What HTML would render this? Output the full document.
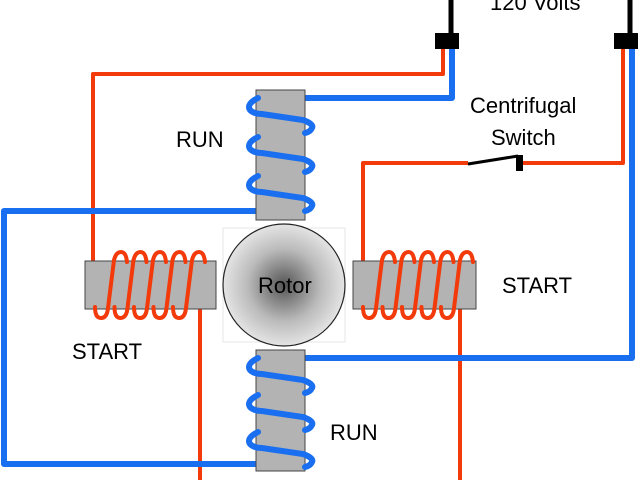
<!DOCTYPE html>
<html><head><meta charset="utf-8"><style>
html,body{margin:0;padding:0;background:#fff;width:640px;height:480px;overflow:hidden}
text{font-family:"Liberation Sans",sans-serif;font-size:22px;fill:#000}
</style></head><body>
<svg width="640" height="480" viewBox="0 0 640 480" xmlns="http://www.w3.org/2000/svg">
<defs>
<radialGradient id="rg" cx="0.5" cy="0.5" r="0.5">
<stop offset="0" stop-color="#555"/><stop offset="0.6" stop-color="#bbb"/><stop offset="1" stop-color="#e4e4e4"/>
</radialGradient>
</defs>
<g fill="none" stroke-linejoin="round">
<!-- black supply wires -->
<line x1="451" y1="0" x2="451" y2="36" stroke="#000" stroke-width="5"/>
<line x1="630" y1="0" x2="630" y2="36" stroke="#000" stroke-width="5"/>
<!-- red wires -->
<polyline points="443,48 443,74 93,74 93,262" stroke="#f33a0a" stroke-width="4"/>
<polyline points="623,48 623,163 522,163" stroke="#f33a0a" stroke-width="4"/>
<polyline points="468,163 363,163 363,262" stroke="#f33a0a" stroke-width="4"/>
<line x1="200" y1="309" x2="200" y2="480" stroke="#f33a0a" stroke-width="4"/>
<line x1="460" y1="309" x2="460" y2="480" stroke="#f33a0a" stroke-width="4"/>
<!-- blue wires -->
<polyline points="452,48 452,98 305,98" stroke="#1a6ff0" stroke-width="6"/>
<polyline points="256,211 4,211 4,464 256,464" stroke="#1a6ff0" stroke-width="6"/>
<polyline points="305,358 632,358 632,48" stroke="#1a6ff0" stroke-width="6"/>
</g>
<!-- terminals -->
<rect x="435" y="33" width="24" height="16" fill="#000"/>
<rect x="614" y="33" width="24" height="16" fill="#000"/>
<!-- switch -->
<line x1="468" y1="164" x2="518" y2="156" stroke="#000" stroke-width="3"/>
<rect x="516" y="155" width="7" height="16" fill="#000"/>
<!-- cores -->
<rect x="256" y="90" width="49" height="130" fill="#b3b3b3" stroke="#444" stroke-width="1"/>
<rect x="256" y="350" width="49" height="121" fill="#b3b3b3" stroke="#444" stroke-width="1"/>
<rect x="85" y="261" width="131" height="48" fill="#b3b3b3" stroke="#444" stroke-width="1"/>
<rect x="353" y="261" width="123" height="48" fill="#b3b3b3" stroke="#444" stroke-width="1"/>
<!-- rotor -->
<rect x="223" y="228" width="122" height="114" fill="#fff" stroke="#e6e6e6"/>
<circle cx="284" cy="285" r="61" fill="url(#rg)" stroke="#222" stroke-width="1.2"/>
<!-- blue coils -->
<g fill="none" stroke="#1a6ff0" stroke-width="6" stroke-linecap="round">
<path d="M258,98 Q246,104 250,110 Q254,114 262,114 L303,120 Q314,124 312,128 Q310,132 305,133"/>
<path d="M258,137 Q246,143 250,149 Q254,153 262,153 L303,159 Q314,163 312,167 Q310,171 305,172"/>
<path d="M258,176 Q246,182 250,188 Q254,192 262,192 L303,198 Q314,202 312,206 Q310,210 305,211"/>
<path d="M258,358 Q246,364 250,370 Q254,374 262,374 L303,380 Q314,384 312,388 Q310,392 305,393"/>
<path d="M258,395 Q246,401 250,407 Q254,411 262,411 L303,417 Q314,421 312,425 Q310,429 305,430"/>
<path d="M258,432 Q246,438 250,444 Q254,448 262,448 L303,454 Q314,458 312,462 Q310,466 305,467"/>
</g>
<!-- red coils -->
<g fill="none" stroke="#f33a0a" stroke-width="4" stroke-linecap="round">
<path id="c0" d="M95,307 Q95,318 101,318 Q107,318 108,308 L114,260 Q116,252 121,252 Q126,252 127,262"/>
<use href="#c0" x="19.5"/><use href="#c0" x="39"/><use href="#c0" x="58.5"/><use href="#c0" x="78"/>
<use href="#c0" x="268"/><use href="#c0" x="287.5"/><use href="#c0" x="307"/><use href="#c0" x="326.5"/><use href="#c0" x="346"/>
</g>
<!-- labels -->
<text x="490" y="10">120 Volts</text>
<text x="470" y="113">Centrifugal</text>
<text x="491" y="145">Switch</text>
<text x="176" y="147">RUN</text>
<text x="72" y="359">START</text>
<text x="502" y="293">START</text>
<text x="330" y="440">RUN</text>
<text x="258" y="293">Rotor</text>
</svg>
</body></html>
